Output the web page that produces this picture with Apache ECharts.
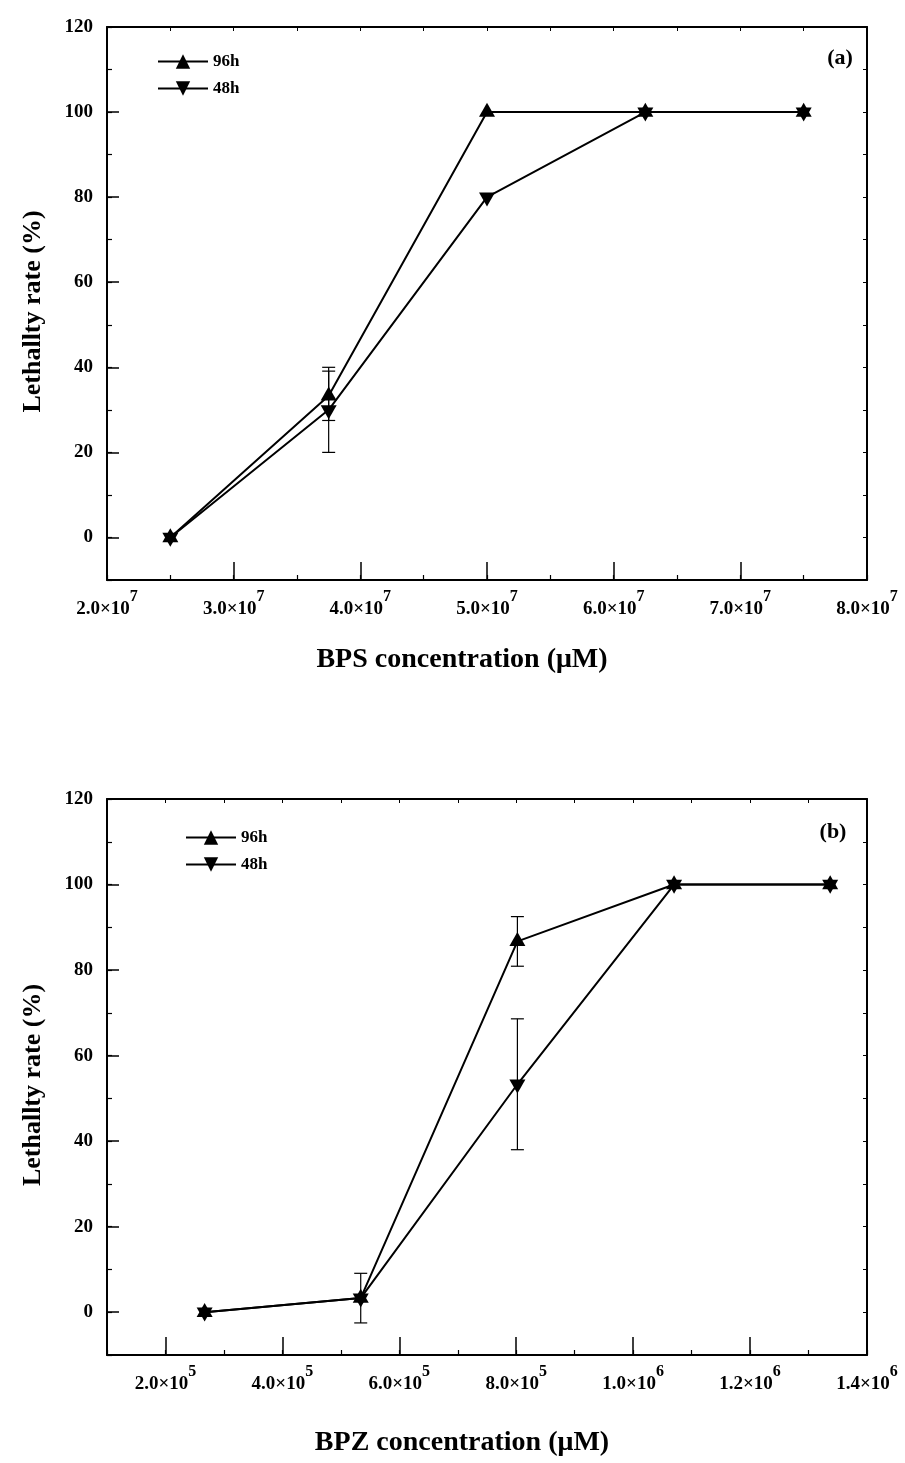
<!DOCTYPE html>
<html><head><meta charset="utf-8">
<script src="https://cdn.jsdelivr.net/npm/echarts@6/dist/echarts.min.js"></script>
<style>html,body{margin:0;padding:0;background:#fff}#c{width:905px;height:1463px}</style>
</head><body><div id="c"></div>
<script>
// ---------- data ----------
const seriesNames = ['96h', '48h'];
// Panel (a): BPS
const bpsConc = [2.5e7, 3.75e7, 5.0e7, 6.25e7, 7.5e7];
const bps96 = [0, 33.3, 100, 100, 100];
const bps96Err = [0, 5.8, 0, 0, 0];
const bps48 = [0, 30, 80, 100, 100];
const bps48Err = [0, 10, 0, 0, 0];
const bpsTickValues = [2e7, 3e7, 4e7, 5e7, 6e7, 7e7, 8e7];
const bpsTickLabels = [['2.0×10', '7'], ['3.0×10', '7'], ['4.0×10', '7'], ['5.0×10', '7'], ['6.0×10', '7'], ['7.0×10', '7'], ['8.0×10', '7']];
// Panel (b): BPZ
const bpzConc = [2.67e5, 5.34e5, 8.02e5, 1.07e6, 1.337e6];
const bpz96 = [0, 3.3, 86.7, 100, 100];
const bpz96Err = [0, 5.8, 5.8, 0, 0];
const bpz48 = [0, 3.3, 53.3, 100, 100];
const bpz48Err = [0, 0, 15.3, 0, 0];
const bpzTickValues = [2e5, 4e5, 6e5, 8e5, 1.0e6, 1.2e6, 1.4e6];
const bpzTickLabels = [['2.0×10', '5'], ['4.0×10', '5'], ['6.0×10', '5'], ['8.0×10', '5'], ['1.0×10', '6'], ['1.2×10', '6'], ['1.4×10', '6']];
// y axis
const yTickValues = [0, 20, 40, 60, 80, 100, 120];
const yTickLabels = ['0', '20', '40', '60', '80', '100', '120'];

// ---------- layout ----------
const FONT = '"Liberation Serif", "DejaVu Serif", serif';
const panels = [
  { top: 27, height: 553, xmin: 2e7, xmax: 8e7, xminor: 5e6, conc: bpsConc, y96: bps96, e96: bps96Err, y48: bps48, e48: bps48Err,
    ticks: bpsTickValues, labels: bpsTickLabels, xTitle: 'BPS concentration (μM)', xTitleY: 660, tag: '(a)', tagX: 840, tagY: 58, legendTop: 58, legendLeft: 152 },
  { top: 799, height: 556, xmin: 1e5, xmax: 1.4e6, xminor: 1e5, conc: bpzConc, y96: bpz96, e96: bpz96Err, y48: bpz48, e48: bpz48Err,
    ticks: bpzTickValues, labels: bpzTickLabels, xTitle: 'BPZ concentration (μM)', xTitleY: 1443, tag: '(b)', tagX: 833, tagY: 832, legendTop: 834, legendLeft: 180 }
];
const LEFT = 107, WIDTH = 760;
const black = '#000';
const SYM_W = 16, SYM_H = 14;

const grid = [], xAxis = [], yAxis = [], series = [], legend = [], graphic = [];
const downTri = 'path://M0,0L10,0L5,8.66Z';

function errRender(params, api) {
  const x = api.value(0), y = api.value(1), e = api.value(2);
  const t = api.coord([x, y + e]), b = api.coord([x, y - e]);
  const w = 6.5;
  const st = { stroke: black, lineWidth: 1.2 };
  return { type: 'group', children: [
    { type: 'line', shape: { x1: t[0], y1: t[1], x2: b[0], y2: b[1] }, style: st },
    { type: 'line', shape: { x1: t[0] - w, y1: t[1], x2: t[0] + w, y2: t[1] }, style: st },
    { type: 'line', shape: { x1: b[0] - w, y1: b[1], x2: b[0] + w, y2: b[1] }, style: st }
  ] };
}

panels.forEach((p, pi) => {
  const gMain = grid.length;
  grid.push({ left: LEFT, top: p.top, width: WIDTH, height: p.height, outerBoundsMode: 'none', containLabel: false });
  grid.push({ left: LEFT, top: p.top, width: WIDTH, height: p.height, outerBoundsMode: 'none', containLabel: false });
  const xi = xAxis.length, yi = yAxis.length;
  // main bottom x axis
  xAxis.push({ type: 'value', gridIndex: gMain, position: 'bottom', min: p.xmin, max: p.xmax,
    axisLine: { show: true, onZero: false, lineStyle: { color: black, width: 2 } },
    axisTick: { show: true, inside: true, length: 18, customValues: p.ticks, lineStyle: { color: black, width: 1.5 } },
    splitLine: { show: false },
    axisLabel: { show: true, margin: 9, customValues: p.ticks,
      formatter: v => { const i = p.ticks.findIndex(t => Math.abs(t - v) < p.xminor / 100); if (i < 0) return ''; return '{b|' + p.labels[i][0] + '}{s|' + p.labels[i][1] + '}'; },
      rich: { b: { fontFamily: FONT, fontWeight: 'bold', fontSize: 19, color: black, verticalAlign: 'bottom', lineHeight: 30 },
              s: { fontFamily: FONT, fontWeight: 'bold', fontSize: 16, color: black, verticalAlign: 'top', lineHeight: 30 } } } });
  // top x axis
  xAxis.push({ type: 'value', gridIndex: gMain, position: 'top', min: p.xmin, max: p.xmax, interval: p.xminor,
    axisLine: { show: true, onZero: false, lineStyle: { color: black, width: 2 } },
    axisTick: { show: true, inside: true, length: 4, lineStyle: { color: black, width: 1 } },
    splitLine: { show: false }, axisLabel: { show: false } });
  // minor bottom ticks (overlay grid)
  xAxis.push({ type: 'value', gridIndex: gMain + 1, position: 'bottom', min: p.xmin, max: p.xmax, interval: p.xminor,
    axisLine: { show: false, onZero: false },
    axisTick: { show: true, inside: true, length: 5, lineStyle: { color: black, width: 1.2 } },
    splitLine: { show: false }, axisLabel: { show: false } });
  // main left y
  yAxis.push({ type: 'value', gridIndex: gMain, position: 'left', min: -10, max: 120,
    axisLine: { show: true, onZero: false, lineStyle: { color: black, width: 2 } },
    axisTick: { show: true, inside: true, length: 12, customValues: yTickValues, lineStyle: { color: black, width: 1.5 } },
    splitLine: { show: false },
    axisLabel: { show: true, margin: 14, customValues: yTickValues, fontFamily: FONT, fontWeight: 'bold', fontSize: 19, color: black,
      formatter: v => { const i = yTickValues.indexOf(v); return i < 0 ? '' : yTickLabels[i]; } } });
  // right y
  yAxis.push({ type: 'value', gridIndex: gMain, position: 'right', min: -10, max: 120, interval: 10,
    axisLine: { show: true, onZero: false, lineStyle: { color: black, width: 2 } },
    axisTick: { show: true, inside: true, length: 4, lineStyle: { color: black, width: 1 } },
    splitLine: { show: false }, axisLabel: { show: false } });
  // minor left y (overlay)
  yAxis.push({ type: 'value', gridIndex: gMain + 1, position: 'left', min: -10, max: 120, interval: 10,
    axisLine: { show: false, onZero: false },
    axisTick: { show: true, inside: true, length: 5, lineStyle: { color: black, width: 1.2 } },
    splitLine: { show: false }, axisLabel: { show: false } });

  // error bars
  const err96 = [], err48 = [];
  p.conc.forEach((x, i) => { if (p.e96[i] > 0) err96.push([x, p.y96[i], p.e96[i]]); if (p.e48[i] > 0) err48.push([x, p.y48[i], p.e48[i]]); });
  [err96, err48].forEach(d => series.push({ type: 'custom', xAxisIndex: xi, yAxisIndex: yi, data: d, renderItem: errRender, z: 1, silent: true, animation: false }));
  // lines
  series.push({ name: seriesNames[0], type: 'line', xAxisIndex: xi, yAxisIndex: yi, data: p.conc.map((x, i) => [x, p.y96[i]]),
    symbol: 'triangle', symbolSize: [SYM_W, SYM_H], symbolOffset: [0, -SYM_H / 6], showSymbol: true, color: black, itemStyle: { color: black },
    lineStyle: { color: black, width: 2 }, animation: false, z: 3 });
  series.push({ name: seriesNames[1], type: 'line', xAxisIndex: xi, yAxisIndex: yi, data: p.conc.map((x, i) => [x, p.y48[i]]),
    symbol: downTri, symbolSize: [SYM_W, SYM_H], symbolOffset: [0, SYM_H / 6], showSymbol: true, color: black, itemStyle: { color: black },
    lineStyle: { color: black, width: 2 }, animation: false, z: 3 });

  legend.push({ data: seriesNames, orient: 'vertical', left: p.legendLeft, top: p.legendTop - 10, itemWidth: 50, itemHeight: 18, itemGap: 10,
    selectedMode: false, textStyle: { fontFamily: FONT, fontWeight: 'bold', fontSize: 17, color: black } });

  graphic.push({ type: 'text', x: p.tagX, y: p.tagY, style: { text: p.tag, fontFamily: FONT, fontWeight: 'bold', fontSize: 22, fill: black, align: 'center', verticalAlign: 'middle' } });
  graphic.push({ type: 'text', x: 462, y: p.xTitleY, style: { text: p.xTitle, fontFamily: FONT, fontWeight: 'bold', fontSize: 28, fill: black, align: 'center', verticalAlign: 'middle' } });
  graphic.push({ type: 'text', x: 33, y: p.top + p.height / 2 + 8, rotation: Math.PI / 2, style: { text: 'Lethallty rate (%)', fontFamily: FONT, fontWeight: 'bold', fontSize: 26, fill: black, align: 'center', verticalAlign: 'middle' } });
});

const chart = echarts.init(document.getElementById('c'), null, { renderer: 'canvas' });
chart.setOption({ backgroundColor: '#fff', animation: false, grid, xAxis, yAxis, series, legend, graphic });
</script></body></html>
